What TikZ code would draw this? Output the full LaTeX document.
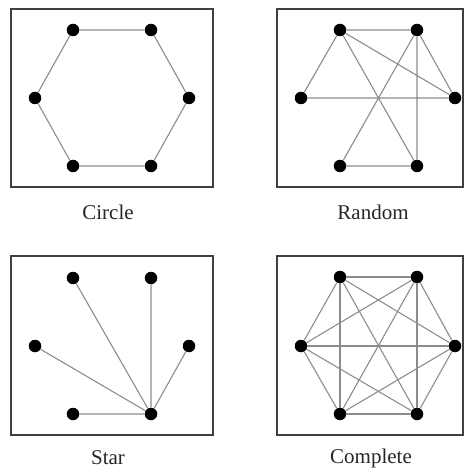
\documentclass[tikz,border=0pt]{standalone}
\usepackage{fontspec}
\setmainfont{Liberation Serif}
\begin{document}
\begin{tikzpicture}[x=1pt,y=-1pt,
  dot/.style={circle,fill=black,inner sep=0pt,minimum size=12.5pt},
  edge/.style={draw=black!45,line width=1.1pt},
  frame/.style={draw=black!75,line width=1.1pt},
  captxt/.style={font=\fontsize{21}{24}\selectfont,text=black!85}]
\useasboundingbox (0,0) rectangle (470,470);
% frames
\draw[frame] (11,9) rectangle (213,187);
\draw[frame] (277,9) rectangle (463,187);
\draw[frame] (11,256) rectangle (213,435);
\draw[frame] (277,256) rectangle (463,435);
% captions
\node[captxt] (capA) at (108,212) {Circle};
\node[captxt] (capB) at (373,212) {Random};
\node[captxt] (capC) at (108,458) {Star};
\node[captxt] (capD) at (371,458) {Complete};
% Circle
\node[dot] (a1) at (73,30) {};
\node[dot] (a2) at (151,30) {};
\node[dot] (a3) at (189,98) {};
\node[dot] (a4) at (151,166) {};
\node[dot] (a5) at (73,166) {};
\node[dot] (a6) at (35,98) {};
\draw[edge] (a1)--(a2) (a2)--(a3) (a3)--(a4) (a4)--(a5) (a5)--(a6) (a6)--(a1);
% Random
\node[dot] (b1) at (340,30) {};
\node[dot] (b2) at (417,30) {};
\node[dot] (b3) at (455,98) {};
\node[dot] (b4) at (417,166) {};
\node[dot] (b5) at (340,166) {};
\node[dot] (b6) at (301,98) {};
\draw[edge] (b1)--(b2) (b1)--(b6) (b1)--(b3) (b1)--(b4) (b2)--(b3) (b2)--(b4) (b2)--(b5) (b6)--(b3) (b5)--(b4);
% Star
\node[dot] (c1) at (73,278) {};
\node[dot] (c2) at (151,278) {};
\node[dot] (c3) at (189,346) {};
\node[dot] (c4) at (151,414) {};
\node[dot] (c5) at (73,414) {};
\node[dot] (c6) at (35,346) {};
\draw[edge] (c1)--(c4) (c2)--(c4) (c3)--(c4) (c5)--(c4) (c6)--(c4);
% Complete
\node[dot] (d1) at (340,277) {};
\node[dot] (d2) at (417,277) {};
\node[dot] (d3) at (455,346) {};
\node[dot] (d4) at (417,414) {};
\node[dot] (d5) at (340,414) {};
\node[dot] (d6) at (301,346) {};
\foreach \i/\j in {1/2,1/3,1/4,1/5,1/6,2/3,2/4,2/5,2/6,3/4,3/5,3/6,4/5,4/6,5/6}
  \draw[edge] (d\i)--(d\j);
\end{tikzpicture}
\end{document}
